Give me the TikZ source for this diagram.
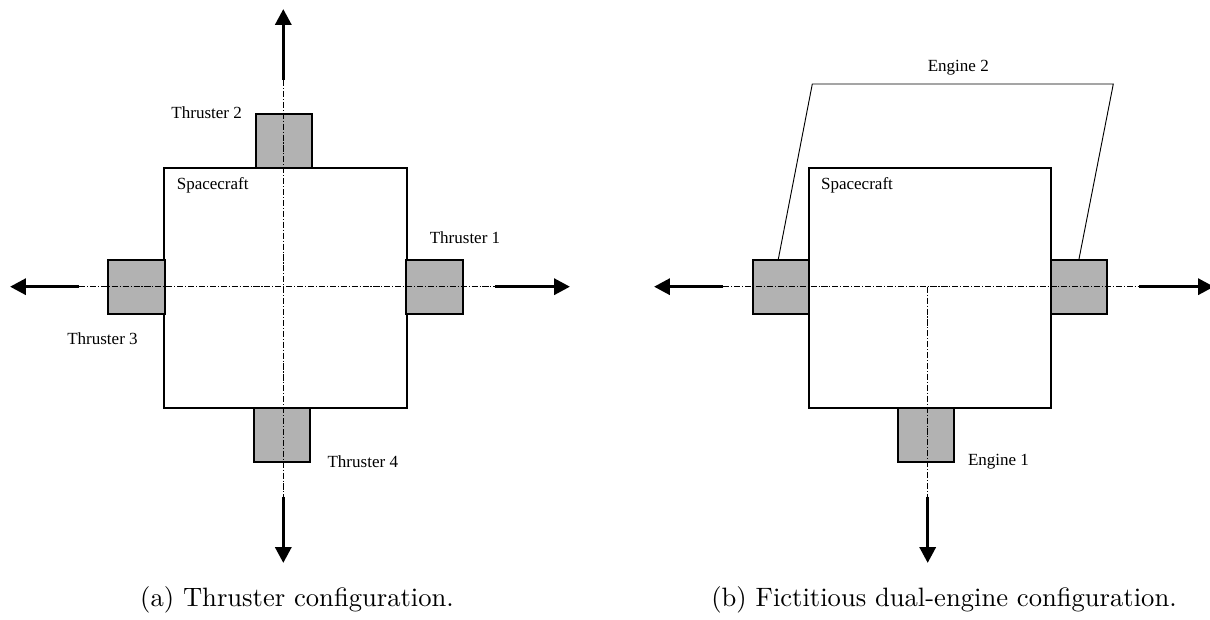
\documentclass[tikz,border=0pt]{standalone}
\usepackage{fontspec}
\newfontfamily\labelfont{Liberation Serif}
\usetikzlibrary{arrows.meta}

\begin{document}
\begin{tikzpicture}[x=0.376pt,y=-0.376pt,
        body/.style={rectangle,draw=black,fill=white,line width=0.75pt,inner sep=0pt,minimum width=91pt,minimum height=90.2pt},
        pod/.style={rectangle,draw=black,fill=gray!60,line width=0.75pt,inner sep=0pt,minimum width=21.1pt,minimum height=20.3pt},
        centre/.style={line width=0.35pt,dash pattern=on 2.3pt off 0.7pt on 0.4pt off 0.7pt},
        thrust/.style={line width=1.3pt,-{Triangle[length=6pt,width=6pt]}},
        bracket/.style={line width=0.35pt},
        tag/.style={font=\labelfont\fontsize{6.4}{7.7}\selectfont,inner sep=0pt},
        subcap/.style={anchor=base,inner sep=0pt}]
        \useasboundingbox (0,0) rectangle (1210,620);
        % (a) thrusters
        \node[body] (sc) at (285.5,288){};
        \node[pod] (t2) at (284,141){};
        \node[pod] (t4) at (282,435){};
        \node[pod] (t3) at (136.5,287){};
        \node[pod] (t1) at (434.5,287){};
        \coordinate (an) at (283.3,80);
        \coordinate (as) at (283.3,497);
        \coordinate (aw) at (79,286.7);
        \coordinate (ae) at (495,286.7);
        \coordinate (antip) at (283.3,9);
        \coordinate (astip) at (283.3,563);
        \coordinate (awtip) at (10,286.7);
        \coordinate (aetip) at (570,286.7);
        \draw[centre] (an) -- (as);
        \draw[centre] (aw) -- (ae);
        \draw[thrust] (an) -- (antip);
        \draw[thrust] (as) -- (astip);
        \draw[thrust] (aw) -- (awtip);
        \draw[thrust] (ae) -- (aetip);
        \node[tag] (lt2) at (206.7,113) {Thruster 2};
        \node[tag] (lsc) at (212.7,185) {Spacecraft};
        \node[tag] (lt1) at (465,238) {Thruster 1};
        \node[tag] (lt3) at (102.5,339) {Thruster 3};
        \node[tag] (lt4) at (362.8,462) {Thruster 4};
        \node[subcap] (capa) at (297,607) {(a) Thruster configuration.};
        % (b) engines
        \node[body] (sc2) at (930,288){};
        \node[pod] (ew) at (781,287){};
        \node[pod] (ee) at (1079,287){};
        \node[pod] (e1) at (926.3,435){};
        \coordinate (bo) at (927.7,286.7);
        \coordinate (bs) at (927.7,497);
        \coordinate (bw) at (723.3,286.7);
        \coordinate (be) at (1139.3,286.7);
        \coordinate (bstip) at (927.7,563);
        \coordinate (bwtip) at (654,286.7);
        \coordinate (betip) at (1214,286.7);
        \coordinate (e2w) at (812.3,84);
        \coordinate (e2e) at (1113.3,84);
        \draw[centre] (bw) -- (be);
        \draw[centre] (bo) -- (bs);
        \draw[thrust] (bs) -- (bstip);
        \draw[thrust] (bw) -- (bwtip);
        \draw[thrust] (be) -- (betip);
        \draw[bracket] ([xshift=-1pt]ew.north) -- (e2w) -- (e2e) -- (ee.north);
        \node[tag] (le2) at (958.3,67.3) {Engine 2};
        \node[tag] (lsc2) at (857,185) {Spacecraft};
        \node[tag] (le1) at (998.5,462) {Engine 1};
        \node[subcap] (capb) at (944,607) {(b) Fictitious dual-engine configuration.};
        \end{tikzpicture}
\end{document}
